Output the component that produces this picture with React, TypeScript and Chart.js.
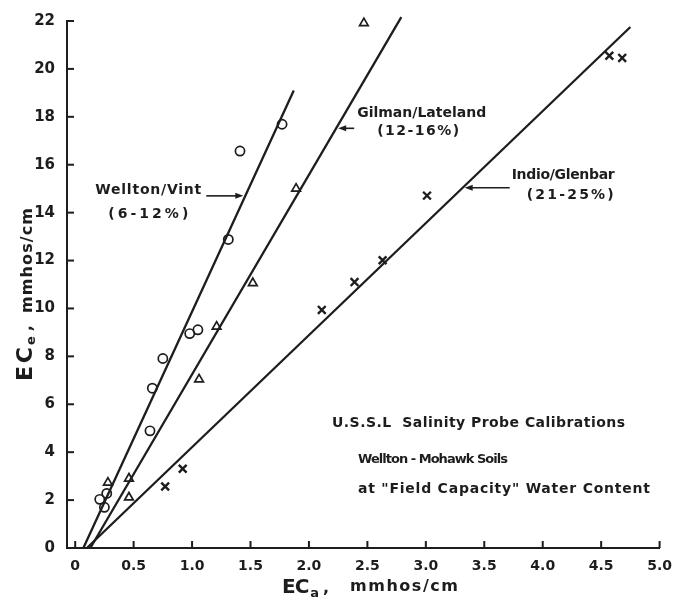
import React, { useEffect, useRef } from 'react';
import { Chart, registerables } from 'chart.js';

Chart.register(...registerables);

// Axis ticks
const xTickValues = [0, 0.5, 1.0, 1.5, 2.0, 2.5, 3.0, 3.5, 4.0, 4.5, 5.0];
const yTickValues = [0, 2, 4, 6, 8, 10, 12, 14, 16, 18, 20, 22];

// Wellton/Vint soils (circles)
const welltonEca = [0.21, 0.25, 0.27, 0.64, 0.66, 0.75, 0.98, 1.05, 1.31, 1.41, 1.77];
const welltonEce = [2.03, 1.7, 2.28, 4.89, 6.67, 7.91, 8.95, 9.11, 12.88, 16.57, 17.69];

// Gilman/Lateland soils (triangles)
const gilmanEca = [0.28, 0.46, 0.46, 1.06, 1.21, 1.52, 1.89, 2.47];
const gilmanEce = [2.73, 2.9, 2.11, 7.04, 9.24, 11.06, 15.0, 21.91];

// Indio/Glenbar soils (crosses)
const indioEca = [0.77, 0.92, 2.11, 2.39, 2.63, 3.01, 4.57, 4.68];
const indioEce = [2.57, 3.31, 9.94, 11.1, 12.01, 14.71, 20.55, 20.46];

// Calibration lines (end points)
const welltonLineEca = [0.07, 1.87];
const welltonLineEce = [0, 19.1];
const gilmanLineEca = [0.13, 2.79];
const gilmanLineEce = [0, 22.16];
const indioLineEca = [0.1, 4.75];
const indioLineEce = [0, 21.75];

const lineNames = ['Wellton/Vint', 'Gilman/Lateland', 'Indio/Glenbar'];
const lineRanges = ['(6-12%)', '(12-16%)', '(21-25%)'];
const noteLines = [
  'U.S.S.L  Salinity Probe Calibrations',
  'Wellton - Mohawk Soils',
  'at "Field Capacity" Water Content',
];

const INK = '#1d1d1d';
const FAMILY = '"DejaVu Sans", "Liberation Sans", sans-serif';

const toPoints = (xs: number[], ys: number[]) => xs.map((x, i) => ({ x, y: ys[i] }));

// Draws text stretched to a given width using letter spacing.
function fitText(
  ctx: CanvasRenderingContext2D,
  text: string,
  x: number,
  y: number,
  width: number,
  align: 'left' | 'center' = 'left'
) {
  (ctx as any).letterSpacing = '0px';
  const w0 = ctx.measureText(text).width;
  const n = Array.from(text).length;
  let sp = n > 1 ? (width - w0) / (n - 1) : 0;
  sp = Math.max(-1, Math.min(8, sp));
  (ctx as any).letterSpacing = `${sp}px`;
  const total = w0 + sp * (n - 1);
  const left = align === 'center' ? x - total / 2 : x;
  ctx.textAlign = 'left';
  ctx.fillText(text, left, y);
  (ctx as any).letterSpacing = '0px';
  return left + total;
}

const fitLines = [
  { eca: welltonLineEca, ece: welltonLineEce },
  { eca: gilmanLineEca, ece: gilmanLineEce },
  { eca: indioLineEca, ece: indioLineEce },
];

const decorPlugin = {
  id: 'decor',
  afterDraw(chart: any) {
    const { ctx, chartArea, scales } = chart;
    const xs = scales.x;
    const ys = scales.y;
    ctx.save();
    ctx.strokeStyle = INK;
    ctx.fillStyle = INK;
    ctx.lineWidth = 2;
    ctx.lineCap = 'butt';

    // inward tick marks
    xs.ticks.forEach((t: any) => {
      const px = xs.getPixelForValue(t.value);
      ctx.beginPath();
      ctx.moveTo(px, chartArea.bottom);
      ctx.lineTo(px, chartArea.bottom - 7);
      ctx.stroke();
    });
    ys.ticks.forEach((t: any) => {
      const py = ys.getPixelForValue(t.value);
      ctx.beginPath();
      ctx.moveTo(chartArea.left, py);
      ctx.lineTo(chartArea.left + 7, py);
      ctx.stroke();
    });

    // arrows pointing at each calibration line, with their labels
    const arrows = [
      { ece: 14.7, len: 37, dir: 1 },
      { ece: 17.52, len: 16, dir: -1 },
      { ece: 15.04, len: 45, dir: -1 },
    ];
    ctx.textBaseline = 'middle';
    ctx.font = `bold 14px ${FAMILY}`;
    arrows.forEach((a, i) => {
      const L = fitLines[i];
      const eca = L.eca[0] + ((a.ece - L.ece[0]) / (L.ece[1] - L.ece[0])) * (L.eca[1] - L.eca[0]);
      const tipX = xs.getPixelForValue(eca) - a.dir * 2;
      const tipY = ys.getPixelForValue(a.ece);
      const tailX = tipX - a.dir * a.len;
      ctx.lineWidth = 1.6;
      ctx.beginPath();
      ctx.moveTo(tailX, tipY);
      ctx.lineTo(tipX - a.dir * 6, tipY);
      ctx.stroke();
      ctx.beginPath();
      ctx.moveTo(tipX, tipY);
      ctx.lineTo(tipX - a.dir * 8, tipY - 3);
      ctx.lineTo(tipX - a.dir * 8, tipY + 3);
      ctx.closePath();
      ctx.fill();

      if (i === 0) {
        fitText(ctx, lineNames[i], tailX - 58, tipY - 6, 106, 'center');
        fitText(ctx, lineRanges[i], tailX - 58, tipY + 18, 80, 'center');
      } else if (i === 1) {
        fitText(ctx, lineNames[i], tailX + 3, tipY - 15, 129);
        fitText(ctx, lineRanges[i], tailX + 23, tipY + 3, 82);
      } else {
        fitText(ctx, lineNames[i], tailX + 2, tipY - 12, 103);
        fitText(ctx, lineRanges[i], tailX + 17, tipY + 8, 87);
      }
    });

    // note block
    const nx = chartArea.left + 265;
    const ny = chartArea.bottom - 125;
    ctx.font = `bold 14px ${FAMILY}`;
    fitText(ctx, noteLines[0], nx, ny, 293);
    ctx.font = `bold 13px ${FAMILY}`;
    fitText(ctx, noteLines[1], nx + 26, ny + 37, 150);
    ctx.font = `bold 14px ${FAMILY}`;
    fitText(ctx, noteLines[2], nx + 26, ny + 66, 292);

    // x axis title: EC_a , mmhos/cm
    ctx.textBaseline = 'alphabetic';
    const tx = chartArea.left + 215;
    const tb = chartArea.bottom + 45;
    ctx.font = `bold 20px ${FAMILY}`;
    let end = fitText(ctx, 'EC', tx, tb, 26);
    ctx.font = `bold 13px ${FAMILY}`;
    end = fitText(ctx, 'a', end + 1, tb + 4, 8);
    ctx.font = `bold 16px ${FAMILY}`;
    ctx.fillText(',', end + 4, tb);
    fitText(ctx, 'mmhos/cm', tx + 68, tb - 2, 108);

    // y axis title: EC_e , mmhos/cm (rotated)
    ctx.save();
    ctx.translate(32, chartArea.bottom - 167);
    ctx.rotate(-Math.PI / 2);
    ctx.font = `bold 22px ${FAMILY}`;
    end = fitText(ctx, 'EC', 0, 0, 34);
    ctx.font = `bold 13px ${FAMILY}`;
    end = fitText(ctx, 'e', end + 2, 3, 8);
    ctx.font = `bold 16px ${FAMILY}`;
    ctx.fillText(',', end + 5, 0);
    fitText(ctx, 'mmhos/cm', 68, 0, 105);
    ctx.restore();

    ctx.restore();
  },
};

export default function App() {
  const canvasRef = useRef<HTMLCanvasElement | null>(null);

  useEffect(() => {
    const canvas = canvasRef.current;
    if (!canvas) return;

    const lineStyle = {
      showLine: true,
      pointRadius: 0,
      borderColor: INK,
      borderWidth: 2.3,
      fill: false,
      clip: false as any,
    };

    const chart = new Chart(canvas, {
      type: 'scatter',
      data: {
        datasets: [
          { ...lineStyle, label: 'Wellton/Vint fit', data: toPoints(welltonLineEca, welltonLineEce) },
          { ...lineStyle, label: 'Gilman/Lateland fit', data: toPoints(gilmanLineEca, gilmanLineEce) },
          { ...lineStyle, label: 'Indio/Glenbar fit', data: toPoints(indioLineEca, indioLineEce) },
          {
            label: 'Wellton/Vint',
            data: toPoints(welltonEca, welltonEce),
            pointStyle: 'circle',
            pointRadius: 4.6,
            borderWidth: 1.7,
            borderColor: INK,
            backgroundColor: 'rgba(255,255,255,0)',
            clip: false as any,
          },
          {
            label: 'Gilman/Lateland',
            data: toPoints(gilmanEca, gilmanEce),
            pointStyle: 'triangle',
            pointRadius: 5,
            borderWidth: 1.7,
            borderColor: INK,
            backgroundColor: 'rgba(255,255,255,0)',
            clip: false as any,
          },
          {
            label: 'Indio/Glenbar',
            data: toPoints(indioEca, indioEce),
            pointStyle: 'crossRot',
            pointRadius: 5.5,
            borderWidth: 2.4,
            borderColor: INK,
            backgroundColor: INK,
            clip: false as any,
          },
        ],
      },
      options: {
        responsive: false,
        animation: false,
        events: [],
        layout: { padding: { left: 0, top: 17, right: 20, bottom: 0 } },
        plugins: {
          legend: { display: false },
          tooltip: { enabled: false },
          title: { display: false },
        },
        scales: {
          x: {
            type: 'linear',
            min: -0.07,
            max: 5.0,
            afterBuildTicks: (axis: any) => {
              axis.ticks = xTickValues.map((v) => ({ value: v }));
            },
            afterFit: (axis: any) => {
              axis.height = 54;
            },
            ticks: {
              color: INK,
              padding: 10,
              maxRotation: 0,
              autoSkip: false,
              font: { family: FAMILY, size: 14, weight: 'bold' },
              callback: (v: any) => (Number(v) === 0 ? '0' : Number(v).toFixed(1)),
            },
            grid: { drawOnChartArea: false, drawTicks: false, color: 'rgba(0,0,0,0)' },
            border: { display: true, color: INK, width: 2 },
          },
          y: {
            type: 'linear',
            min: 0,
            max: 22,
            afterBuildTicks: (axis: any) => {
              axis.ticks = yTickValues.map((v) => ({ value: v }));
            },
            afterFit: (axis: any) => {
              axis.width = 67;
            },
            ticks: {
              color: INK,
              padding: 12,
              autoSkip: false,
              font: { family: FAMILY, size: 15, weight: 'bold' },
              callback: (v: any) => String(v),
            },
            grid: { drawOnChartArea: false, drawTicks: false, color: 'rgba(0,0,0,0)' },
            border: { display: true, color: INK, width: 2 },
          },
        },
      },
      plugins: [decorPlugin],
    } as any);

    return () => chart.destroy();
  }, []);

  return (
    <div style={{ position: 'absolute', left: 0, top: 0, width: 682, height: 602, background: '#fff' }}>
      <canvas ref={canvasRef} width={682} height={602} />
    </div>
  );
}
